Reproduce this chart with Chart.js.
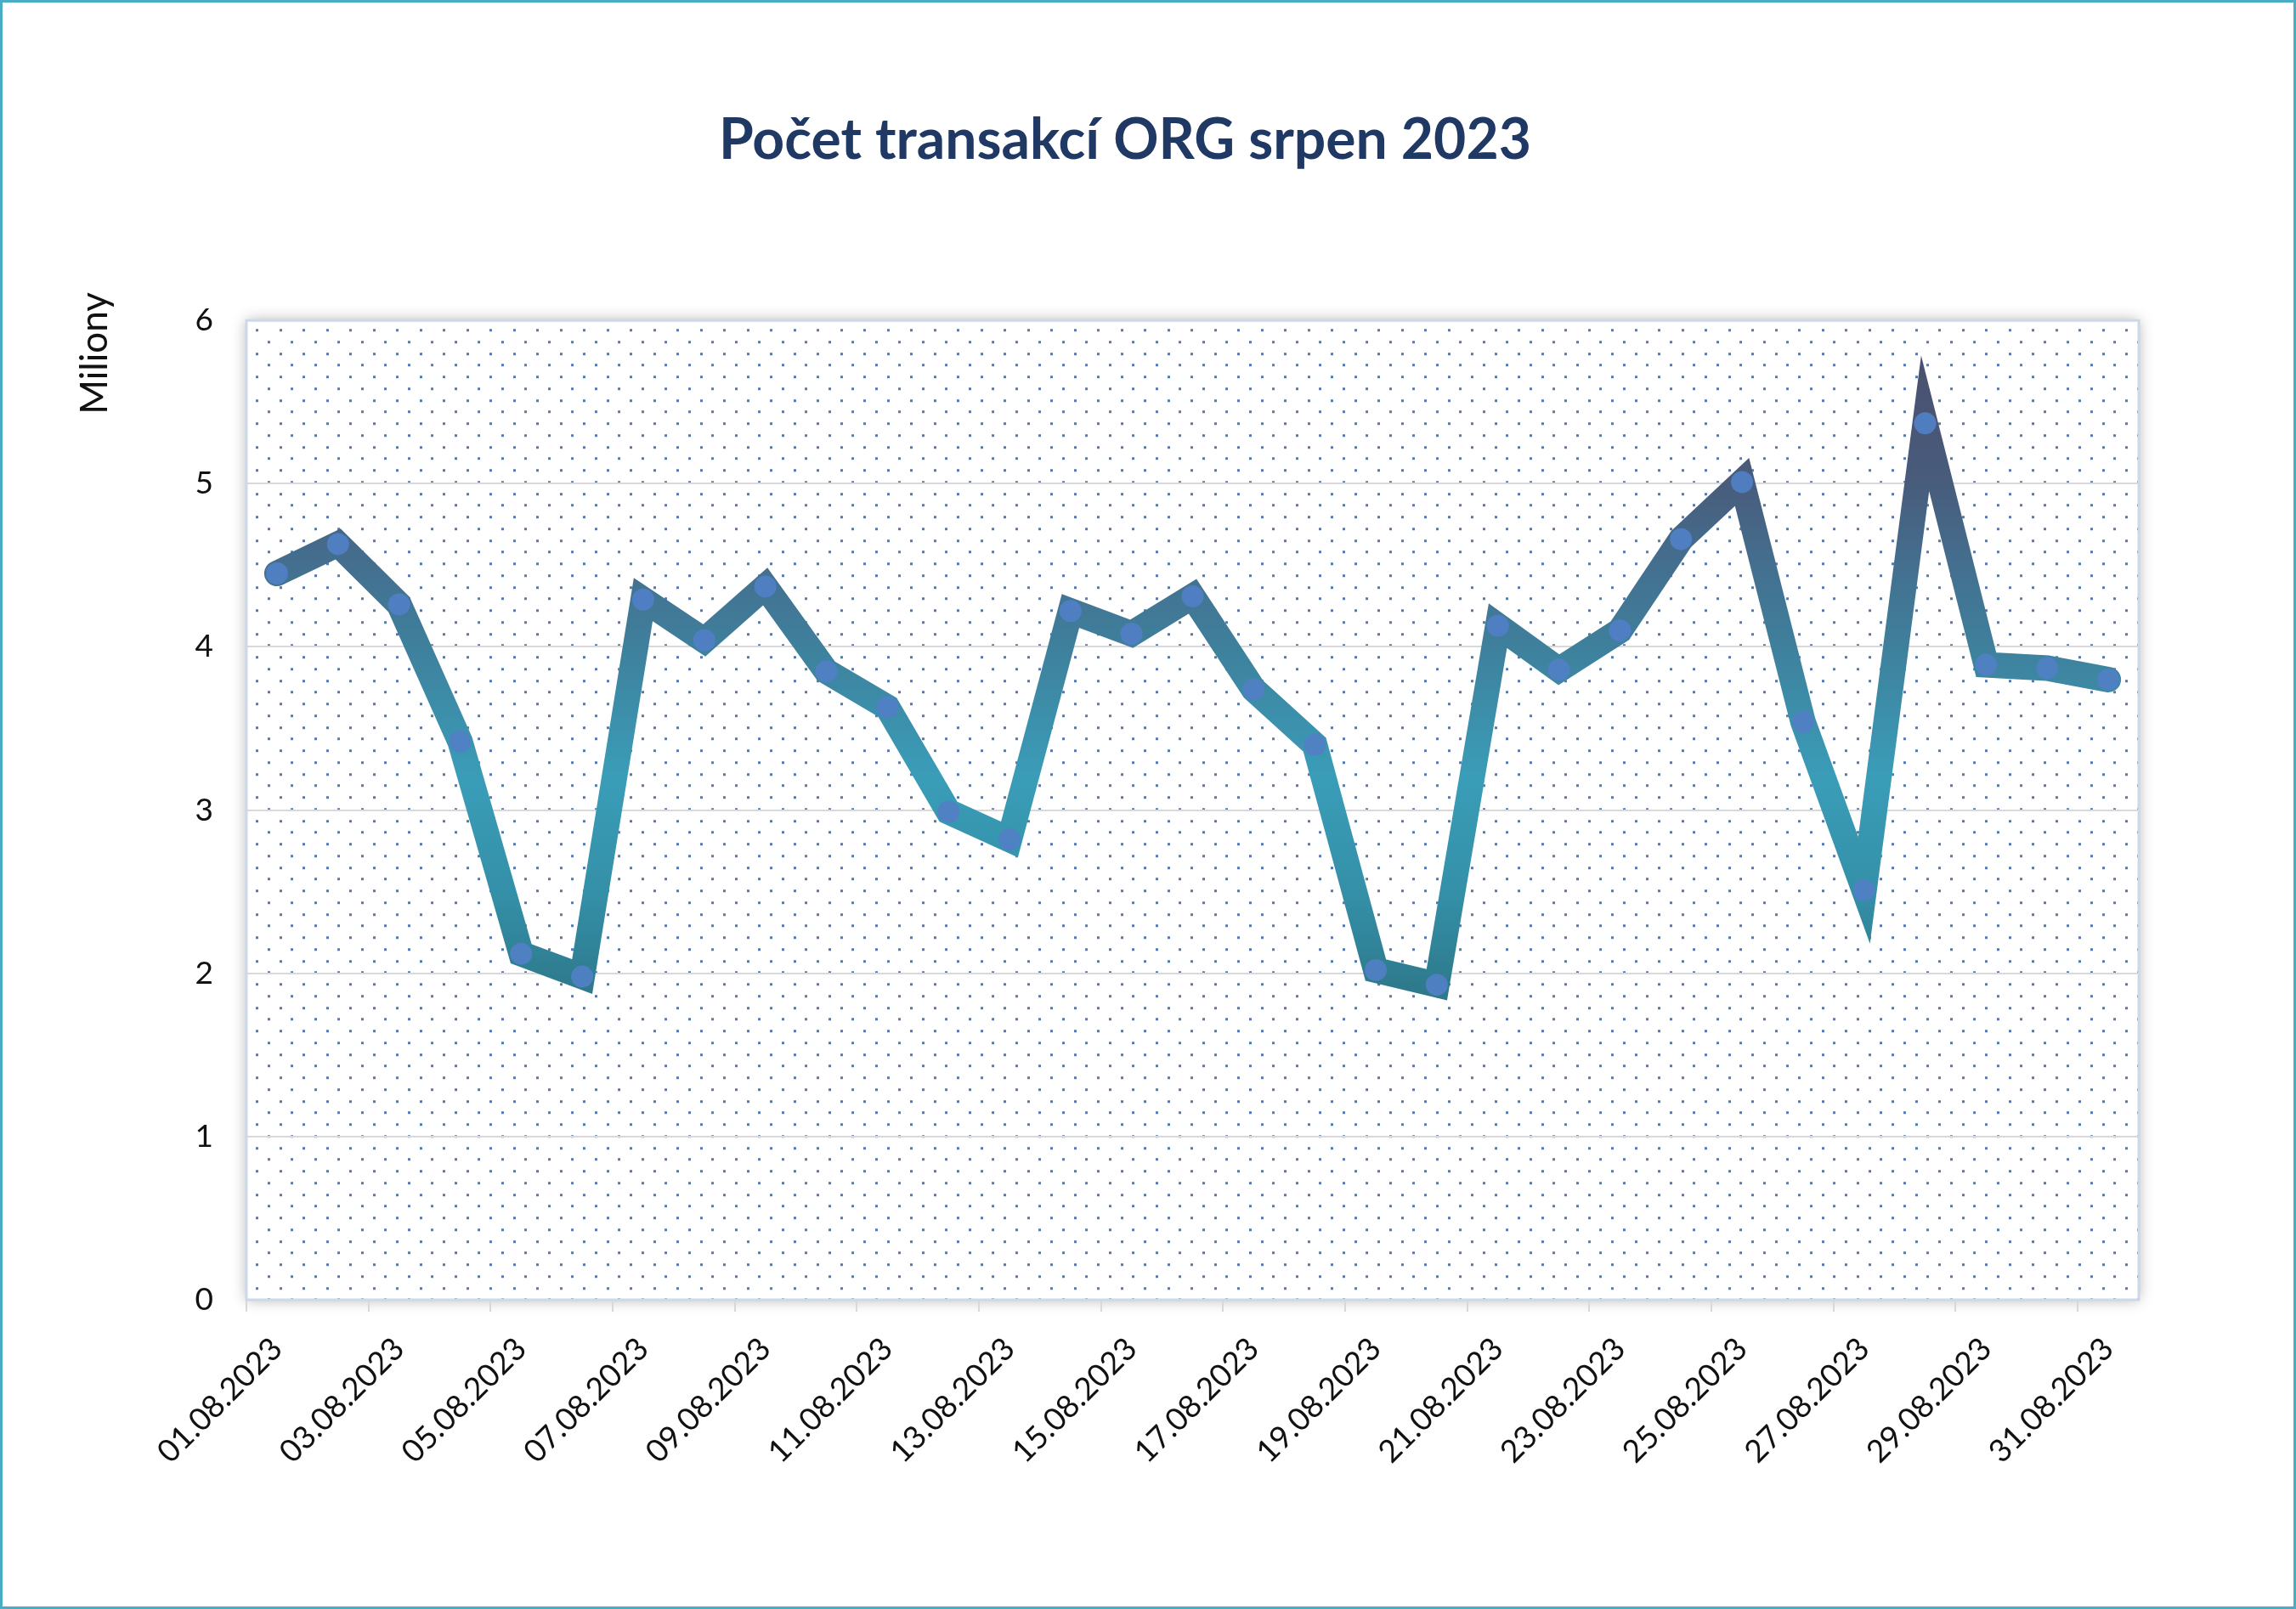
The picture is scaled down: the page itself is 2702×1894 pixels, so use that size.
<!DOCTYPE html>
<html>
<head>
<meta charset="utf-8">
<script src="https://cdn.jsdelivr.net/npm/chart.js@4.4.0/dist/chart.umd.min.js"></script>
<style>
    html, body { margin: 0; padding: 0; background: #fff; }
    #wrap { position: relative; width: 2702px; height: 1894px; }
    #wrap::after { content: ''; position: absolute; inset: 0; border: 3px solid #4bacc6; pointer-events: none; }
    canvas { display: block; }
</style>
</head>
<body>
<div id="wrap"><canvas id="transakceChart" width="2702" height="1894"></canvas></div>
<script>
// Data - pocet transakci za srpen 2023 (v milionech)
const dny = [
    '01.08.2023', '02.08.2023', '03.08.2023', '04.08.2023', '05.08.2023', '06.08.2023', '07.08.2023',
    '08.08.2023', '09.08.2023', '10.08.2023', '11.08.2023', '12.08.2023', '13.08.2023', '14.08.2023',
    '15.08.2023', '16.08.2023', '17.08.2023', '18.08.2023', '19.08.2023', '20.08.2023', '21.08.2023',
    '22.08.2023', '23.08.2023', '24.08.2023', '25.08.2023', '26.08.2023', '27.08.2023', '28.08.2023',
    '29.08.2023', '30.08.2023', '31.08.2023'
];
const transakce = [
    4.45, 4.63, 4.26, 3.42, 2.12, 1.98, 4.29,
    4.04, 4.37, 3.85, 3.63, 2.99, 2.82, 4.22,
    4.08, 4.31, 3.74, 3.40, 2.02, 1.93, 4.13,
    3.86, 4.10, 4.66, 5.01, 3.54, 2.51, 5.37,
    3.89, 3.87, 3.80
];
const osaY = [0, 1, 2, 3, 4, 5, 6];

const titulek = 'Počet transakcí ORG srpen 2023';
const popisY = 'Miliony';

// vzor s teckami na pozadi grafu
function dotPattern() {
    const c = document.createElement('canvas');
    c.width = 55; c.height = 55;
    const g = c.getContext('2d');
    g.fillStyle = '#5679ad';
    [[0, 0], [27.5, 0], [13.75, 13.75], [41.25, 13.75],
     [0, 27.5], [27.5, 27.5], [13.75, 41.25], [41.25, 41.25]].forEach(function(p) {
        g.fillRect(Math.round(p[0]), Math.round(p[1]), 3, 3);
    });
    return c;
}

// pozadi plochy grafu (stin + tecky), ramecek a popisek osy Y
const plotFrame = {
    id: 'plotFrame',
    beforeDraw(chart) {
        const ctx = chart.ctx, a = chart.chartArea;
        ctx.save();
        ctx.shadowColor = 'rgba(0,0,0,0.3)';
        ctx.shadowBlur = 16;
        ctx.fillStyle = '#fff';
        ctx.fillRect(a.left, a.top, a.width, a.height);
        ctx.restore();

        ctx.save();
        ctx.translate(a.left + 11, a.top + 10);
        ctx.fillStyle = ctx.createPattern(dotPattern(), 'repeat');
        ctx.fillRect(-11, -10, a.width, a.height);
        ctx.restore();
    },
    beforeDatasetsDraw(chart) {
        const ctx = chart.ctx, a = chart.chartArea;
        ctx.save();
        ctx.strokeStyle = '#cdd8e8';
        ctx.lineWidth = 3;
        ctx.strokeRect(a.left, a.top, a.width, a.height);
        ctx.restore();
    },
    afterDraw(chart) {
        const ctx = chart.ctx;
        ctx.save();
        ctx.translate(112, 416);
        ctx.rotate(-Math.PI / 2);
        ctx.font = '44px Lato';
        ctx.fillStyle = '#111';
        ctx.textAlign = 'center';
        ctx.textBaseline = 'middle';
        ctx.fillText(popisY, 0, 0);
        ctx.restore();
    }
};

function lineGradient(context) {
    const chart = context.chart;
    const area = chart.chartArea;
    if (!area) return '#3a8fa8';
    const y = chart.scales.y;
    const g = chart.ctx.createLinearGradient(0, y.getPixelForValue(5.8), 0, y.getPixelForValue(1.8));
    g.addColorStop(0, '#4b4f6f');
    g.addColorStop(0.2, '#485c7c');
    g.addColorStop(0.325, '#446f8f');
    g.addColorStop(0.45, '#3e809c');
    g.addColorStop(0.65, '#3a9db8');
    g.addColorStop(0.825, '#3490a8');
    g.addColorStop(1, '#2d7687');
    return g;
}

const ctx = document.getElementById('transakceChart').getContext('2d');
const transakceChart = new Chart(ctx, {
    type: 'line',
    data: {
        labels: dny,
        datasets: [{
            label: titulek,
            data: transakce,
            borderColor: lineGradient,
            borderWidth: 30,
            borderJoinStyle: 'miter',
            borderCapStyle: 'round',
            tension: 0,
            fill: false,
            pointRadius: 13,
            pointBorderWidth: 0,
            pointBackgroundColor: 'rgba(80,128,196,0.95)'
        }]
    },
    options: {
        responsive: false,
        animation: false,
        devicePixelRatio: 1,
        layout: { padding: { top: 0, left: 0, right: 54, bottom: 0 } },
        plugins: {
            legend: { display: false },
            tooltip: { enabled: false },
            title: {
                display: true,
                text: titulek,
                color: '#1f3864',
                font: { family: 'Lato', size: 66, weight: 'bold' },
                padding: { top: 126, bottom: 172 }
            }
        },
        scales: {
            x: {
                offset: true,
                border: { display: false },
                grid: {
                    offset: true,
                    drawOnChartArea: false,
                    tickLength: 14,
                    lineWidth: 2,
                    tickColor: function(c) { return c.index % 2 === 0 ? '#d9d9d9' : 'transparent'; }
                },
                ticks: {
                    autoSkip: false,
                    maxRotation: 45,
                    minRotation: 45,
                    padding: 22,
                    color: '#111',
                    font: { family: 'Lato', size: 37 },
                    callback: function(val, i) { return i % 2 === 0 ? dny[i] : ''; }
                },
                afterFit: function(scale) { scale.height = 364; }
            },
            y: {
                min: osaY[0],
                max: osaY[osaY.length - 1],
                border: { display: false },
                grid: { color: '#d9d9d9', lineWidth: 2, drawTicks: false },
                ticks: {
                    stepSize: 1,
                    padding: 39,
                    color: '#111',
                    font: { family: 'Lato', size: 37 }
                },
                afterFit: function(scale) { scale.width = 290; }
            },
            // prazdna osa vpravo jen kvuli mezere (titulek zustane na stredu)
            yPrava: {
                position: 'right',
                display: true,
                border: { display: false },
                grid: { display: false },
                ticks: { display: false },
                afterFit: function(scale) { scale.width = 131; }
            }
        }
    },
    plugins: [plotFrame]
});
</script>
</body>
</html>
